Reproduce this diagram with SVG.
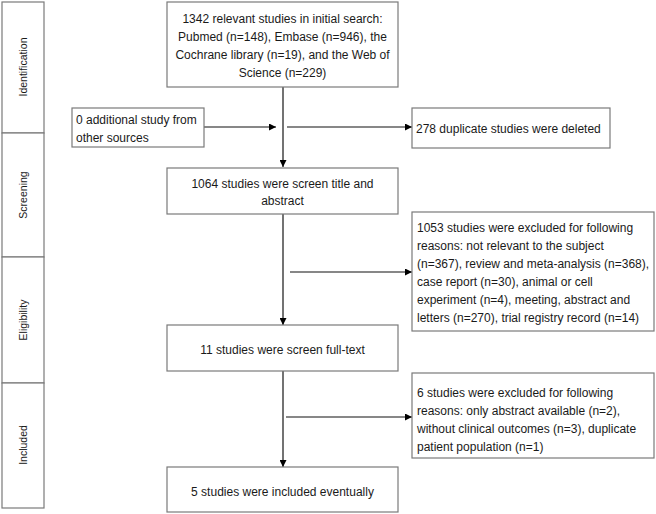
<svg xmlns="http://www.w3.org/2000/svg" width="656" height="514" viewBox="0 0 656 514">
<defs>
<marker id="ah" viewBox="0 0 10 10" refX="10" refY="5" markerWidth="7" markerHeight="7" markerUnits="userSpaceOnUse" orient="auto">
<path d="M0,0 L10,5 L0,10 z" fill="#000"/>
</marker>
</defs>
<style>
.box{fill:#fff;stroke:#7a7a7a;stroke-width:1.2}
.t{font-family:"Liberation Sans",Arial,sans-serif;font-size:12px;fill:#1a1a1a}
.c{text-anchor:middle}
.ph{font-family:"Liberation Sans",Arial,sans-serif;font-size:10.5px;fill:#1a1a1a;text-anchor:middle}
.main{stroke:#444;stroke-width:1.5;fill:none}
.br{stroke:#111;stroke-width:1.2;fill:none}
</style>
<rect width="656" height="514" fill="#fff"/>
<g id="phases">
<g id="ph-identification"><rect class="box" x="2" y="2" width="42" height="131"/><text class="ph" transform="translate(27,67) rotate(-90)">Identification</text></g>
<g id="ph-screening"><rect class="box" x="2" y="133" width="42" height="124"/><text class="ph" transform="translate(27,195) rotate(-90)">Screening</text></g>
<g id="ph-eligibility"><rect class="box" x="2" y="257" width="42" height="126"/><text class="ph" transform="translate(27,320) rotate(-90)">Eligibility</text></g>
<g id="ph-included"><rect class="box" x="2" y="383" width="42" height="125"/><text class="ph" transform="translate(27,445) rotate(-90)">Included</text></g>
</g>
<g id="connectors">
<line class="main" x1="283" y1="87" x2="283" y2="167" marker-end="url(#ah)"/>
<line class="main" x1="283" y1="214" x2="283" y2="325" marker-end="url(#ah)"/>
<line class="main" x1="283" y1="371" x2="283" y2="467" marker-end="url(#ah)"/>
<line class="br" x1="204" y1="127" x2="276" y2="127" marker-end="url(#ah)"/>
<line class="br" x1="287" y1="127" x2="412" y2="127" marker-end="url(#ah)"/>
<line class="br" x1="290" y1="272" x2="412" y2="272" marker-end="url(#ah)"/>
<line class="br" x1="286" y1="417" x2="412" y2="417" marker-end="url(#ah)"/>
</g>
<g id="n-initial"><rect class="box" x="167" y="2" width="231" height="85"/>
<text class="t c" x="282.5" y="22.5">1342 relevant studies in initial search:</text>
<text class="t c" x="282.5" y="40.5">Pubmed (n=148), Embase (n=946), the</text>
<text class="t c" x="282.5" y="58.5">Cochrane library (n=19), and the Web of</text>
<text class="t c" x="282.5" y="76.5">Science (n=229)</text></g>
<g id="n-additional"><rect class="box" x="72" y="108" width="132" height="39"/>
<text class="t" x="76" y="123.5">0 additional study from</text>
<text class="t" x="76" y="141.5">other sources</text></g>
<g id="n-duplicates"><rect class="box" x="412" y="108" width="198" height="40"/>
<text class="t" x="416" y="132.5">278 duplicate studies were deleted</text></g>
<g id="n-screen"><rect class="box" x="167" y="168" width="231" height="46"/>
<text class="t c" x="282.5" y="187.5">1064 studies were screen title and</text>
<text class="t c" x="282.5" y="204.5">abstract</text></g>
<g id="n-excluded1"><rect class="box" x="412" y="212" width="242" height="119"/>
<text class="t" x="417" y="231.5">1053 studies were excluded for following</text>
<text class="t" x="417" y="249.5">reasons: not relevant to the subject</text>
<text class="t" x="417" y="267.5">(n=367), review and meta-analysis (n=368),</text>
<text class="t" x="417" y="285.5">case report (n=30), animal or cell</text>
<text class="t" x="417" y="303.5">experiment (n=4), meeting, abstract and</text>
<text class="t" x="417" y="321.5">letters (n=270), trial registry record (n=14)</text></g>
<g id="n-fulltext"><rect class="box" x="167" y="325" width="231" height="46"/>
<text class="t c" x="282.5" y="353.5">11 studies were screen full-text</text></g>
<g id="n-excluded2"><rect class="box" x="412" y="373" width="242" height="85"/>
<text class="t" x="417" y="396.5">6 studies were excluded for following</text>
<text class="t" x="417" y="414.5">reasons: only abstract available (n=2),</text>
<text class="t" x="417" y="432.5">without clinical outcomes (n=3), duplicate</text>
<text class="t" x="417" y="450.5">patient population (n=1)</text></g>
<g id="n-included"><rect class="box" x="167" y="467" width="231" height="45"/>
<text class="t c" x="282.5" y="495.5">5 studies were included eventually</text></g>
</svg>
